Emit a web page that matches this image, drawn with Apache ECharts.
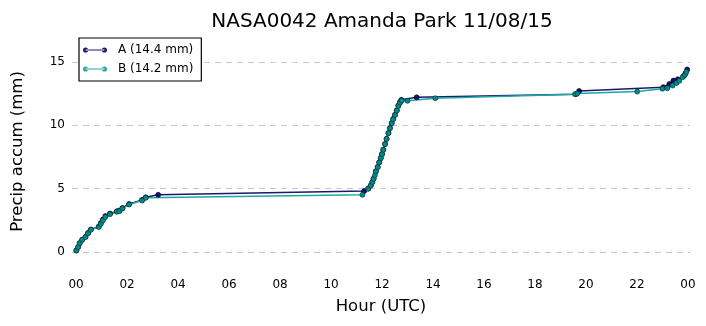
<!DOCTYPE html>
<html>
<head>
<meta charset="utf-8">
<script src="https://cdn.jsdelivr.net/npm/echarts@6/dist/echarts.min.js"></script>
<style>html,body{margin:0;padding:0;background:#fff}#c{width:706px;height:326px}</style>
</head>
<body>
<div id="c"></div>
<script>
const titleText = 'NASA0042 Amanda Park 11/08/15';
const seriesNames = ['A (14.4 mm)', 'B (14.2 mm)'];
const xTicks = [0, 2, 4, 6, 8, 10, 12, 14, 16, 18, 20, 22, 24];
const yTicks = [0, 5, 10, 15];

// hour (UTC), accumulated precip (mm)
const seriesA = [
  [0.01,0.1],[0.08,0.37],[0.14,0.68],[0.24,0.95],[0.37,1.18],[0.47,1.49],[0.58,1.76],
  [0.89,2.0],[0.97,2.27],[1.05,2.55],[1.15,2.82],[1.33,3.02],[1.6,3.2],[1.7,3.26],
  [1.82,3.46],[2.08,3.78],[2.59,4.1],[2.73,4.3],[3.22,4.5],
  [11.3,4.8],[11.46,5.0],[11.56,5.25],[11.62,5.52],[11.67,5.78],[11.76,6.36],[11.83,6.7],
  [11.89,7.07],[11.95,7.41],[12.0,7.73],[12.05,8.07],[12.12,8.52],[12.18,8.92],[12.25,9.39],
  [12.31,9.78],[12.38,10.18],[12.44,10.5],[12.51,10.83],[12.58,11.18],[12.64,11.55],
  [12.71,11.84],[12.76,12.0],[13.36,12.2],[19.6,12.45],[19.73,12.7],
  [23.03,13.0],[23.27,13.26],[23.43,13.52],[23.6,13.62],[23.82,13.86],[23.9,14.1],[23.97,14.4]
];
const seriesB = [
  [0.01,0.1],[0.08,0.37],[0.14,0.68],[0.24,0.95],[0.37,1.16],[0.47,1.47],[0.58,1.74],
  [0.89,1.95],[0.97,2.2],[1.05,2.47],[1.15,2.74],[1.33,2.97],[1.6,3.16],[1.7,3.2],
  [1.82,3.42],[2.08,3.73],[2.59,4.05],[2.73,4.26],
  [11.23,4.5],[11.46,4.97],[11.56,5.23],[11.62,5.5],[11.67,5.76],[11.72,6.05],[11.76,6.34],[11.83,6.68],
  [11.89,7.05],[11.95,7.39],[12.0,7.71],[12.05,8.05],[12.12,8.5],[12.18,8.9],[12.25,9.37],
  [12.31,9.76],[12.38,10.16],[12.44,10.47],[12.51,10.8],[12.58,11.15],[12.64,11.52],
  [12.71,11.78],[12.77,11.94],[13.0,11.92],[14.09,12.13],[19.57,12.45],[19.66,12.5],
  [22.01,12.65],[23.0,12.88],[23.19,12.92],[23.4,13.13],[23.55,13.33],[23.66,13.5],
  [23.79,13.79],[23.88,13.97],[23.94,14.2]
];

const FONT = 'DejaVu Sans';
const legendIcon = 'path://M0,3a3,3 0 1,0 6,0a3,3 0 1,0 -6,0z M3,2.3h22v1.4h-22z M22,3a3,3 0 1,0 6,0a3,3 0 1,0 -6,0z';
const colA = '#191970', colB = '#20a8a0';

const chart = echarts.init(document.getElementById('c'), null, {renderer: 'canvas'});
chart.setOption({
  animation: false,
  backgroundColor: '#fff',
  title: {
    text: titleText, left: 377, top: 7, textAlign: 'center',
    textStyle: {fontFamily: FONT, fontSize: 20, fontWeight: 'normal', color: '#000'}
  },
  legend: {
    data: [
      {name: seriesNames[0], itemStyle: {color: colA, borderWidth: 0}},
      {name: seriesNames[1], itemStyle: {color: colB, borderWidth: 0}}
    ],
    orient: 'vertical', left: 79, top: 38, z: 10,
    backgroundColor: '#fff', borderColor: '#000', borderWidth: 1.2, borderRadius: 0,
    padding: [6, 8, 6, 4], itemGap: 7, itemWidth: 24, itemHeight: 6, icon: legendIcon,
    textStyle: {fontFamily: FONT, fontSize: 12, color: '#000', padding: [0, 0, 0, 6]}
  },
  grid: {left: 72, right: 16, top: 33, bottom: 56, outerBoundsMode: 'none', containLabel: false},
  xAxis: {
    type: 'value', min: -0.16, max: 24.08,
    name: 'Hour (UTC)', nameLocation: 'middle', nameGap: 28,
    nameTextStyle: {fontFamily: FONT, fontSize: 16.5, color: '#000'},
    axisLine: {show: false}, axisTick: {show: false}, splitLine: {show: false},
    axisLabel: {
      customValues: xTicks, margin: 9, fontFamily: FONT, fontSize: 12, color: '#000',
      formatter: v => String(Math.round(v) % 24).padStart(2, '0')
    }
  },
  yAxis: {
    type: 'value', min: -1.44, max: 17.28,
    name: 'Precip accum (mm)', nameLocation: 'middle', nameGap: 46,
    nameTextStyle: {fontFamily: FONT, fontSize: 16.5, color: '#000'},
    axisLine: {show: false}, axisTick: {show: false}, splitLine: {show: false},
    axisLabel: {customValues: yTicks, margin: 7, fontFamily: FONT, fontSize: 12, color: '#000'}
  },
  series: [
    {
      name: 'grid', type: 'line', data: [], silent: true, z: 1,
      markLine: {
        silent: true, symbol: 'none', label: {show: false}, z: 1,
        lineStyle: {color: '#c8c8c8', type: [6, 5], width: 1},
        data: yTicks.map(v => ({yAxis: v}))
      }
    },
    {
      name: seriesNames[0], type: 'line', data: seriesA,
      symbol: 'circle', symbolSize: 5, showSymbol: true,
      lineStyle: {color: colA, width: 1.5},
      itemStyle: {color: '#101070', borderColor: '#000', borderWidth: 0.6}
    },
    {
      name: seriesNames[1], type: 'line', data: seriesB,
      symbol: 'circle', symbolSize: 5, showSymbol: true,
      lineStyle: {color: colB, width: 1.5},
      itemStyle: {color: '#008b8b', borderColor: '#0a2a2a', borderWidth: 0.6}
    }
  ]
});
</script>
</body>
</html>
